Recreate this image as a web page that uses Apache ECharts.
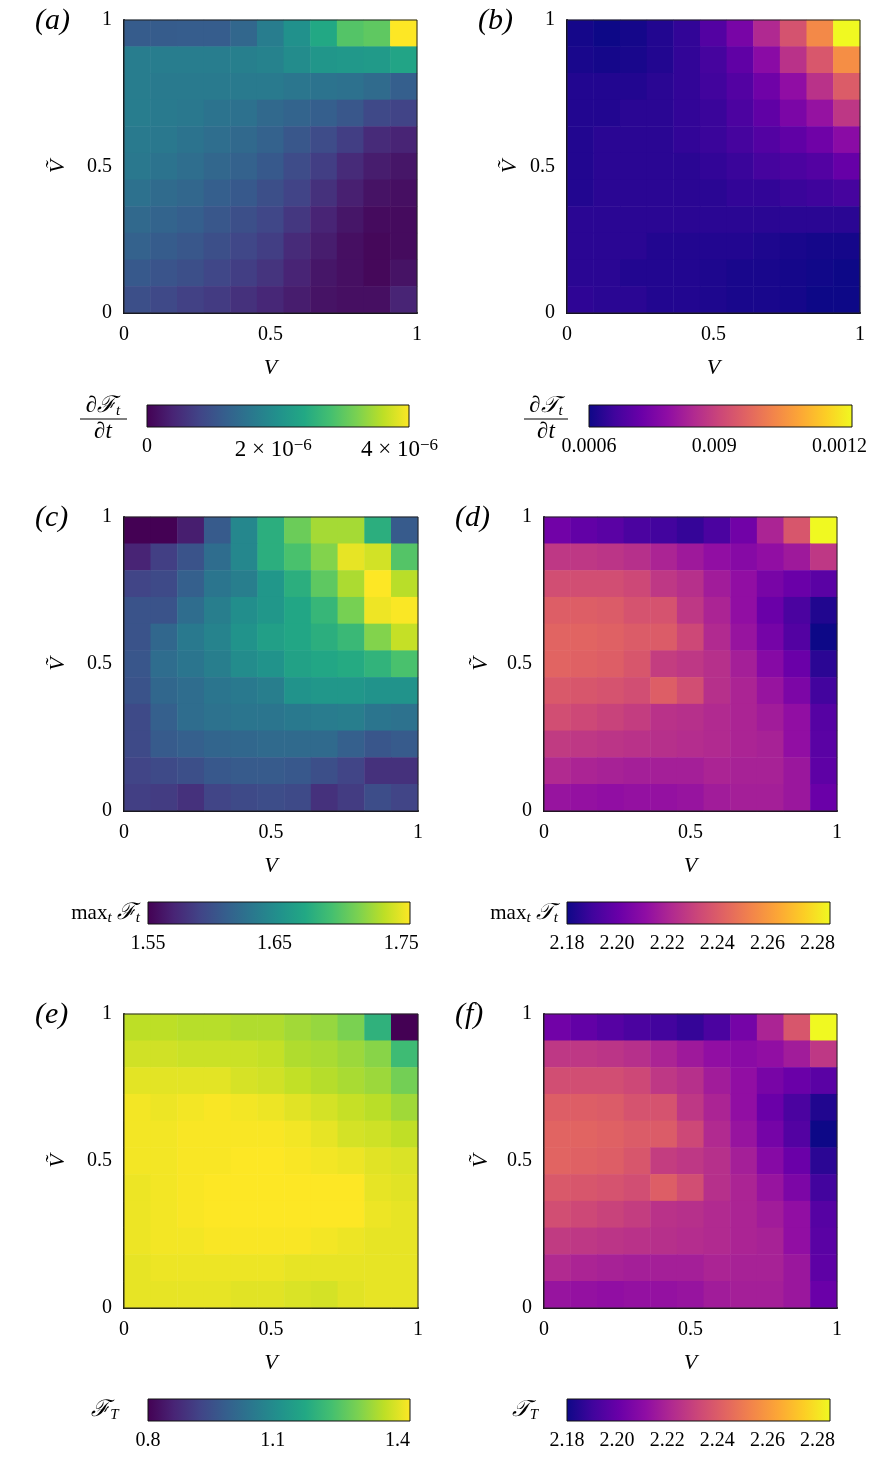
<!DOCTYPE html>
<html>
<head>
<meta charset="utf-8">
<script src="https://cdn.jsdelivr.net/npm/echarts@6/dist/echarts.min.js"></script>
<style>html,body{margin:0;padding:0;background:#fff}#c{width:882px;height:1458px}</style>
</head>
<body>
<div id="c"></div>
<script>
// ---------- DATA ----------
const Vvals = ['0','0.1','0.2','0.3','0.4','0.5','0.6','0.7','0.8','0.9','1'];
const Vtilde = ['0','0.1','0.2','0.3','0.4','0.5','0.6','0.7','0.8','0.9','1'];

// rows listed from Ṽ = 1 (top) down to Ṽ = 0 (bottom); columns V = 0 .. 1
// (a) dF_t/dt in units of 1e-6
const dFdt_e6 = [
  [1.20,1.20,1.22,1.22,1.37,1.74,2.08,2.49,3.03,3.11,4.15],
  [1.74,1.74,1.74,1.74,1.78,1.83,1.99,2.16,2.20,2.24,2.41],
  [1.74,1.70,1.70,1.70,1.70,1.70,1.62,1.58,1.54,1.45,1.25],
  [1.74,1.70,1.66,1.58,1.54,1.41,1.33,1.25,1.12,0.91,0.83],
  [1.70,1.66,1.58,1.49,1.41,1.29,1.12,0.95,0.75,0.50,0.42],
  [1.66,1.58,1.49,1.37,1.29,1.16,0.95,0.75,0.50,0.33,0.25],
  [1.54,1.45,1.37,1.25,1.16,1.00,0.83,0.58,0.37,0.21,0.17],
  [1.41,1.33,1.25,1.12,1.00,0.87,0.66,0.42,0.25,0.12,0.12],
  [1.29,1.20,1.12,1.00,0.87,0.75,0.50,0.33,0.17,0.08,0.12],
  [1.16,1.08,1.00,0.87,0.75,0.62,0.42,0.25,0.17,0.08,0.21],
  [1.00,0.91,0.79,0.71,0.58,0.46,0.33,0.21,0.17,0.17,0.42]
];
// (b) dT_t/dt in units of 1e-3
const dTdt_e3 = [
  [0.610,0.600,0.610,0.625,0.645,0.690,0.750,0.850,0.940,1.050,1.230],
  [0.615,0.610,0.615,0.625,0.645,0.670,0.710,0.780,0.870,0.950,1.060],
  [0.625,0.625,0.625,0.635,0.645,0.665,0.690,0.735,0.790,0.870,0.960],
  [0.625,0.625,0.635,0.635,0.645,0.655,0.680,0.710,0.755,0.800,0.880],
  [0.625,0.635,0.635,0.635,0.645,0.655,0.670,0.690,0.710,0.735,0.780],
  [0.625,0.635,0.635,0.635,0.635,0.645,0.655,0.670,0.680,0.690,0.720],
  [0.625,0.635,0.635,0.635,0.635,0.635,0.645,0.645,0.655,0.660,0.670],
  [0.635,0.635,0.635,0.635,0.635,0.635,0.635,0.635,0.635,0.635,0.635],
  [0.635,0.635,0.635,0.625,0.625,0.625,0.625,0.620,0.615,0.610,0.610],
  [0.635,0.635,0.625,0.625,0.625,0.620,0.615,0.615,0.610,0.605,0.600],
  [0.640,0.635,0.635,0.625,0.625,0.620,0.615,0.615,0.610,0.600,0.595]
];
// (c) max_t F_t
const maxF = [
  [1.550,1.550,1.567,1.609,1.645,1.680,1.710,1.729,1.729,1.680,1.609],
  [1.571,1.588,1.603,1.624,1.645,1.680,1.697,1.718,1.750,1.743,1.701],
  [1.592,1.596,1.613,1.630,1.638,1.659,1.680,1.705,1.731,1.758,1.735],
  [1.603,1.603,1.624,1.638,1.651,1.659,1.672,1.687,1.714,1.752,1.756],
  [1.603,1.619,1.634,1.642,1.655,1.666,1.672,1.680,1.689,1.718,1.739],
  [1.605,1.624,1.630,1.638,1.649,1.655,1.668,1.672,1.676,1.684,1.697],
  [1.603,1.619,1.624,1.630,1.634,1.638,1.655,1.659,1.659,1.655,1.655],
  [1.596,1.613,1.624,1.628,1.630,1.630,1.634,1.636,1.638,1.630,1.628],
  [1.596,1.609,1.613,1.617,1.619,1.621,1.621,1.621,1.613,1.605,1.609],
  [1.592,1.596,1.600,1.607,1.609,1.609,1.607,1.600,1.592,1.579,1.579],
  [1.588,1.586,1.579,1.592,1.596,1.598,1.596,1.579,1.586,1.598,1.592]
];
// (d) max_t T_t
const maxT = [
  [2.203,2.199,2.197,2.193,2.191,2.188,2.193,2.203,2.220,2.238,2.285],
  [2.227,2.227,2.226,2.224,2.220,2.216,2.212,2.209,2.212,2.216,2.227],
  [2.235,2.235,2.235,2.233,2.227,2.224,2.217,2.212,2.205,2.201,2.197],
  [2.241,2.241,2.240,2.237,2.237,2.227,2.220,2.212,2.201,2.193,2.184],
  [2.243,2.243,2.242,2.240,2.240,2.233,2.222,2.214,2.204,2.195,2.180],
  [2.243,2.242,2.241,2.238,2.229,2.227,2.224,2.218,2.209,2.201,2.186],
  [2.239,2.238,2.237,2.235,2.241,2.235,2.224,2.220,2.214,2.206,2.191],
  [2.235,2.233,2.231,2.229,2.225,2.224,2.222,2.220,2.217,2.212,2.196],
  [2.228,2.227,2.226,2.225,2.224,2.223,2.222,2.220,2.219,2.212,2.197],
  [2.222,2.220,2.219,2.218,2.218,2.218,2.220,2.219,2.219,2.215,2.198],
  [2.214,2.213,2.212,2.213,2.213,2.214,2.217,2.218,2.218,2.215,2.201]
];
// (e) F_T
const finalF = [
  [1.367,1.367,1.361,1.361,1.355,1.355,1.342,1.330,1.304,1.204,0.800],
  [1.386,1.386,1.380,1.380,1.380,1.374,1.355,1.349,1.336,1.317,1.229],
  [1.404,1.404,1.404,1.404,1.392,1.386,1.372,1.360,1.348,1.336,1.296],
  [1.420,1.414,1.420,1.426,1.420,1.414,1.402,1.390,1.376,1.364,1.340],
  [1.420,1.420,1.426,1.426,1.426,1.426,1.420,1.408,1.390,1.384,1.370],
  [1.420,1.420,1.426,1.426,1.430,1.430,1.426,1.420,1.414,1.402,1.396],
  [1.414,1.420,1.426,1.430,1.430,1.430,1.430,1.430,1.430,1.408,1.402],
  [1.414,1.420,1.426,1.430,1.430,1.430,1.430,1.430,1.430,1.414,1.408],
  [1.414,1.420,1.420,1.426,1.426,1.426,1.426,1.420,1.414,1.408,1.408],
  [1.408,1.414,1.414,1.414,1.414,1.414,1.408,1.408,1.408,1.408,1.408],
  [1.408,1.408,1.408,1.408,1.402,1.402,1.396,1.390,1.402,1.408,1.408]
];
// (f) T_T
const finalT = [
  [2.203,2.199,2.196,2.193,2.191,2.188,2.193,2.204,2.220,2.238,2.285],
  [2.227,2.227,2.226,2.224,2.220,2.216,2.212,2.210,2.212,2.217,2.227],
  [2.235,2.235,2.235,2.233,2.227,2.224,2.217,2.212,2.205,2.201,2.197],
  [2.241,2.241,2.240,2.237,2.237,2.227,2.220,2.212,2.201,2.193,2.184],
  [2.243,2.243,2.242,2.240,2.240,2.233,2.222,2.214,2.204,2.195,2.180],
  [2.243,2.242,2.241,2.238,2.229,2.227,2.224,2.218,2.209,2.201,2.186],
  [2.239,2.238,2.237,2.235,2.241,2.235,2.224,2.220,2.214,2.206,2.191],
  [2.235,2.233,2.231,2.229,2.225,2.224,2.222,2.220,2.217,2.212,2.196],
  [2.228,2.227,2.226,2.225,2.224,2.223,2.222,2.220,2.219,2.212,2.197],
  [2.222,2.220,2.219,2.218,2.218,2.218,2.220,2.219,2.219,2.215,2.198],
  [2.214,2.213,2.212,2.213,2.213,2.214,2.217,2.218,2.218,2.215,2.201]
];

// colour-bar ranges and tick labels
const rangeA = [0, 4.15],   ticksA = [0, 2, 4],        tickTextA = ['0', '{n|2 × 10}{sup|−6}', '{n|4 × 10}{sup|−6}'];
const rangeB = [0.6, 1.23], ticksB = [0.6, 0.9, 1.2],  tickTextB = ['0.0006', '0.009', '0.0012'];
const rangeC = [1.55, 1.757], ticksC = [1.55, 1.65, 1.75], tickTextC = ['1.55', '1.65', '1.75'];
const rangeD = [2.18, 2.285], ticksD = [2.18, 2.20, 2.22, 2.24, 2.26, 2.28], tickTextD = ['2.18','2.20','2.22','2.24','2.26','2.28'];
const rangeE = [0.8, 1.43], ticksE = [0.8, 1.1, 1.4], tickTextE = ['0.8', '1.1', '1.4'];
const rangeF = [2.18, 2.285], ticksF = [2.18, 2.20, 2.22, 2.24, 2.26, 2.28], tickTextF = ['2.18','2.20','2.22','2.24','2.26','2.28'];

const viridis = ['#440154','#482475','#414487','#355f8d','#2a788e','#21918c','#22a884','#44bf70','#7ad151','#bddf26','#fde725'];
const plasma  = ['#0d0887','#41049d','#6a00a8','#8f0da4','#b12a90','#cc4778','#e16462','#f2844b','#fca636','#fcce25','#f0f921'];

// ---------- LAYOUT ----------
const SERIF = "'Liberation Serif','DejaVu Serif',serif";
const panels = [
  {label:'(a)', rows:dFdt_e6, cmap:viridis, range:rangeA, ticks:ticksA, text:tickTextA,
   grid:{left:124, top:20, width:293, height:293}, cb:{left:147, top:405, width:262, height:22}, yGap:55, lab:[35,6]},
  {label:'(b)', rows:dTdt_e3, cmap:plasma, range:rangeB, ticks:ticksB, text:tickTextB,
   grid:{left:567, top:20, width:293, height:293}, cb:{left:589, top:405, width:263, height:22}, yGap:46, lab:[478,6]},
  {label:'(c)', rows:maxF, cmap:viridis, range:rangeC, ticks:ticksC, text:tickTextC,
   grid:{left:124, top:517, width:294, height:294}, cb:{left:148, top:902, width:262, height:22}, yGap:55, lab:[35,503]},
  {label:'(d)', rows:maxT, cmap:plasma, range:rangeD, ticks:ticksD, text:tickTextD,
   grid:{left:544, top:517, width:293, height:294}, cb:{left:567, top:902, width:263, height:22}, yGap:52, lab:[455,503]},
  {label:'(e)', rows:finalF, cmap:viridis, range:rangeE, ticks:ticksE, text:tickTextE,
   grid:{left:124, top:1014, width:294, height:294}, cb:{left:148, top:1399, width:262, height:22}, yGap:55, lab:[35,1000]},
  {label:'(f)', rows:finalT, cmap:plasma, range:rangeF, ticks:ticksF, text:tickTextF,
   grid:{left:544, top:1014, width:293, height:294}, cb:{left:567, top:1399, width:263, height:22}, yGap:52, lab:[455,1000]}
];

function toCells(rows) {
  const out = [];
  const n = rows.length;
  rows.forEach((r, i) => r.forEach((v, j) => out.push([j, n - 1 - i, v])));
  return out;
}

const grid = [], xAxis = [], yAxis = [], visualMap = [];
const heatSeries = [], cbSeries = [];

panels.forEach((p, k) => {
  grid.push(Object.assign({show:true, z:10, borderColor:'#222', borderWidth:1, backgroundColor:'transparent'}, p.grid));
  const gi = grid.length - 1;
  const xc = xAxis.length;
  xAxis.push({type:'category', gridIndex:gi, data:Vvals, show:false});
  xAxis.push({type:'value', gridIndex:gi, min:0, max:1, interval:0.5, position:'bottom',
    axisLine:{show:true, onZero:false, lineStyle:{color:'#000', width:2}}, axisTick:{show:false}, splitLine:{show:false},
    axisLabel:{fontFamily:SERIF, fontSize:20, color:'#000', margin:12},
    name:'V', nameLocation:'middle', nameGap:44,
    nameTextStyle:{fontFamily:SERIF, fontSize:22, fontStyle:'italic', color:'#000'}});
  const yc = yAxis.length;
  yAxis.push({type:'category', gridIndex:gi, data:Vtilde, show:false});
  yAxis.push({type:'value', gridIndex:gi, min:0, max:1, interval:0.5, position:'left',
    axisLine:{show:true, onZero:false, lineStyle:{color:'#000', width:2}}, axisTick:{show:false}, splitLine:{show:false},
    axisLabel:{fontFamily:SERIF, fontSize:20, color:'#000', margin:12},
    name:'Ṽ', nameLocation:'middle', nameGap:p.yGap, nameRotate:90,
    nameTextStyle:{fontFamily:SERIF, fontSize:22, fontStyle:'italic', color:'#000'}});
  heatSeries.push({type:'heatmap', xAxisIndex:xc, yAxisIndex:yc, data:toCells(p.rows), itemStyle:{borderWidth:0}, progressive:0});
  visualMap.push({type:'continuous', show:false, seriesIndex:k, dimension:2,
    min:p.range[0], max:p.range[1], inRange:{color:p.cmap}});
});

panels.forEach((p, k) => {
  grid.push(Object.assign({show:false}, p.cb));
  const gi = grid.length - 1;
  const xi = xAxis.length;
  const lookup = {};
  p.ticks.forEach((t, i) => { lookup[t.toFixed(3)] = p.text[i]; });
  xAxis.push({type:'value', gridIndex:gi, min:p.range[0], max:p.range[1], position:'bottom',
    axisLine:{show:false}, axisTick:{show:false}, splitLine:{show:false},
    axisLabel:{customValues:p.ticks, showMinLabel:true, showMaxLabel:true, hideOverlap:false,
      fontFamily:SERIF, fontSize:20, color:'#000', margin:10,
      formatter: v => (lookup[v.toFixed(3)] !== undefined ? lookup[v.toFixed(3)] : ''),
      rich:{n:{fontFamily:SERIF, fontSize:23, color:'#000', lineHeight:26},
            sup:{fontFamily:SERIF, fontSize:17, color:'#000', lineHeight:17, verticalAlign:'top'}}}});
  const yi = yAxis.length;
  yAxis.push({type:'value', gridIndex:gi, min:0, max:1, show:false});
  const stops = p.cmap.map((c, i) => ({offset: i / (p.cmap.length - 1), color: c}));
  cbSeries.push({type:'custom', xAxisIndex:xi, yAxisIndex:yi, data:[[p.range[0], p.range[1]]], silent:true,
    renderItem: (params, api) => {
      const p0 = api.coord([api.value(0), 0]);
      const p1 = api.coord([api.value(1), 1]);
      return {type:'rect', shape:{x:p0[0], y:p1[1], width:p1[0]-p0[0], height:p0[1]-p1[1]},
        style:{fill:new echarts.graphic.LinearGradient(0,0,1,0,stops), stroke:'#111', lineWidth:1}};
    }});
});

// ---------- TEXT DECORATIONS ----------
const richMath = {
  i:{fontFamily:SERIF, fontSize:23, fontStyle:'italic', color:'#000', lineHeight:26},
  r:{fontFamily:SERIF, fontSize:21, color:'#000', lineHeight:26},
  s:{fontFamily:SERIF, fontSize:15, fontStyle:'italic', color:'#000', lineHeight:17, verticalAlign:'bottom'}
};
function txt(x, y, text, align) {
  return {type:'text', x:x, y:y, z:100, style:{text:text, rich:richMath, align:align || 'center', verticalAlign:'middle',
    font: '23px ' + SERIF}};
}
const graphic = [];
panels.forEach(p => {
  graphic.push({type:'text', left:p.lab[0], top:p.lab[1], z:100,
    style:{text:p.label, fontFamily:SERIF, fontSize:30, fontStyle:'italic', fill:'#000'}});
});
graphic.push(txt(103, 406, '{i|∂ℱ}{s|t}'));
graphic.push({type:'line', z:100, shape:{x1:80, y1:419, x2:127, y2:419}, style:{stroke:'#000', lineWidth:1.2}});
graphic.push(txt(103, 432, '{i|∂t}'));
graphic.push(txt(546, 406, '{i|∂𝒯}{s|t}'));
graphic.push({type:'line', z:100, shape:{x1:524, y1:419, x2:568, y2:419}, style:{stroke:'#000', lineWidth:1.2}});
graphic.push(txt(546, 432, '{i|∂t}'));
graphic.push(txt(140, 913, '{r|max}{s|t}{r| }{i|ℱ}{s|t}', 'right'));
graphic.push(txt(558, 913, '{r|max}{s|t}{r| }{i|𝒯}{s|t}', 'right'));
graphic.push(txt(105, 1410, '{i|ℱ}{s|T}'));
graphic.push(txt(525, 1410, '{i|𝒯}{s|T}'));

const chart = echarts.init(document.getElementById('c'), null, {renderer:'canvas'});
chart.setOption({
  animation:false,
  backgroundColor:'#fff',
  grid, xAxis, yAxis, visualMap,
  series: heatSeries.concat(cbSeries),
  graphic
});
</script>
</body>
</html>
